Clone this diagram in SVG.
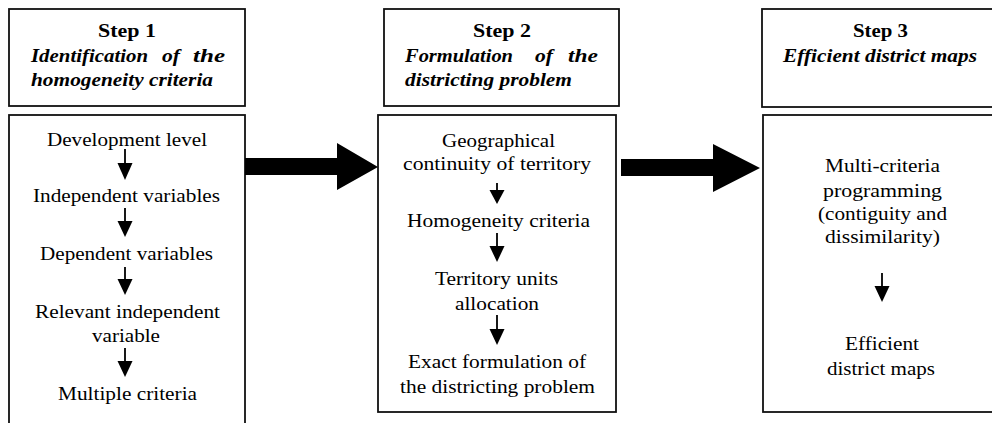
<svg xmlns="http://www.w3.org/2000/svg" width="992" height="423" viewBox="0 0 992 423">
<style>
  .box { fill: #fff; stroke: #111; stroke-width: 1.8; }
  .hd { font-family: 'Liberation Serif', 'DejaVu Serif', serif; font-size: 18.5px; font-weight: bold; fill: #000; }
  .it { font-style: italic; }
  .bd { font-family: 'Liberation Serif', 'DejaVu Serif', serif; font-size: 19px; fill: #000; }
  .shaft { stroke: #000; stroke-width: 1.8; fill: none; }
  .head { fill: #000; stroke: none; }
  .big { fill: #000; stroke: none; }
</style>
<rect width="992" height="423" fill="#fff"/>

<g id="step1-header">
  <rect class="box" x="9" y="9" width="236" height="97"/>
  <text class="hd" x="98" y="37" textLength="58" lengthAdjust="spacingAndGlyphs">Step 1</text>
  <text class="hd it" x="31" y="62" textLength="117" lengthAdjust="spacingAndGlyphs">Identification</text>
  <text class="hd it" x="162" y="62" textLength="18" lengthAdjust="spacingAndGlyphs">of</text>
  <text class="hd it" x="193" y="62" textLength="32" lengthAdjust="spacingAndGlyphs">the</text>
  <text class="hd it" x="31" y="86" textLength="182" lengthAdjust="spacingAndGlyphs">homogeneity criteria</text>
</g>

<g id="step1-body">
  <rect class="box" x="9" y="115" width="236" height="330"/>
  <text class="bd" x="47" y="146" textLength="160" lengthAdjust="spacingAndGlyphs">Development level</text>
  <text class="bd" x="33" y="202" textLength="187" lengthAdjust="spacingAndGlyphs">Independent variables</text>
  <text class="bd" x="40" y="260" textLength="173" lengthAdjust="spacingAndGlyphs">Dependent variables</text>
  <text class="bd" x="35" y="318" textLength="185" lengthAdjust="spacingAndGlyphs">Relevant independent</text>
  <text class="bd" x="92" y="342" textLength="68" lengthAdjust="spacingAndGlyphs">variable</text>
  <text class="bd" x="58" y="400" textLength="139" lengthAdjust="spacingAndGlyphs">Multiple criteria</text>
</g>

<g id="step2-header">
  <rect class="box" x="384" y="9" width="235" height="97"/>
  <text class="hd" x="473" y="37" textLength="58" lengthAdjust="spacingAndGlyphs">Step 2</text>
  <text class="hd it" x="405" y="62" textLength="108" lengthAdjust="spacingAndGlyphs">Formulation</text>
  <text class="hd it" x="535" y="62" textLength="18" lengthAdjust="spacingAndGlyphs">of</text>
  <text class="hd it" x="568" y="62" textLength="30" lengthAdjust="spacingAndGlyphs">the</text>
  <text class="hd it" x="405" y="86" textLength="167" lengthAdjust="spacingAndGlyphs">districting problem</text>
</g>

<g id="step2-body">
  <rect class="box" x="378" y="115" width="238" height="297"/>
  <text class="bd" x="442" y="147" textLength="113" lengthAdjust="spacingAndGlyphs">Geographical</text>
  <text class="bd" x="403" y="170" textLength="188" lengthAdjust="spacingAndGlyphs">continuity of territory</text>
  <text class="bd" x="407" y="227" textLength="183" lengthAdjust="spacingAndGlyphs">Homogeneity criteria</text>
  <text class="bd" x="435" y="285" textLength="123" lengthAdjust="spacingAndGlyphs">Territory units</text>
  <text class="bd" x="455" y="310" textLength="84" lengthAdjust="spacingAndGlyphs">allocation</text>
  <text class="bd" x="408" y="368" textLength="178" lengthAdjust="spacingAndGlyphs">Exact formulation of</text>
  <text class="bd" x="400" y="393" textLength="195" lengthAdjust="spacingAndGlyphs">the districting problem</text>
</g>

<g id="step3-header">
  <rect class="box" x="762" y="9" width="250" height="98"/>
  <text class="hd" x="853" y="37" textLength="55" lengthAdjust="spacingAndGlyphs">Step 3</text>
  <text class="hd it" x="783" y="62" textLength="194" lengthAdjust="spacingAndGlyphs">Efficient district maps</text>
</g>

<g id="step3-body">
  <rect class="box" x="763" y="115" width="250" height="297"/>
  <text class="bd" x="825" y="172" textLength="115" lengthAdjust="spacingAndGlyphs">Multi-criteria</text>
  <text class="bd" x="823" y="197" textLength="119" lengthAdjust="spacingAndGlyphs">programming</text>
  <text class="bd" x="818" y="220" textLength="129" lengthAdjust="spacingAndGlyphs">(contiguity and</text>
  <text class="bd" x="825" y="243" textLength="115" lengthAdjust="spacingAndGlyphs">dissimilarity)</text>
  <text class="bd" x="845" y="350" textLength="74" lengthAdjust="spacingAndGlyphs">Efficient</text>
  <text class="bd" x="827" y="375" textLength="108" lengthAdjust="spacingAndGlyphs">district maps</text>
</g>

<g id="connectors">
  <polygon class="big" points="245,158 337,158 337,143 378,167 337,190 337,175 245,175"/>
  <polygon class="big" points="621,159 713,159 713,144 760,168 713,192 713,176 621,176"/>
  <path class="shaft" d="M125,149 V166 M125,208 V224 M125,267 V282 M125,348 V364"/>
  <polygon class="head" points="117.5,163 132.5,163 125,180"/>
  <polygon class="head" points="117.5,221 132.5,221 125,237"/>
  <polygon class="head" points="117.5,279 132.5,279 125,295"/>
  <polygon class="head" points="117.5,361 132.5,361 125,377"/>
  <path class="shaft" d="M497,183 V193 M497,233 V249 M497,315 V332"/>
  <polygon class="head" points="489.5,190 504.5,190 497,204"/>
  <polygon class="head" points="489.5,246 504.5,246 497,262"/>
  <polygon class="head" points="489.5,329 504.5,329 497,345"/>
  <path class="shaft" d="M882,273 V289"/>
  <polygon class="head" points="874.5,286 889.5,286 882,302"/>
</g>
</svg>
